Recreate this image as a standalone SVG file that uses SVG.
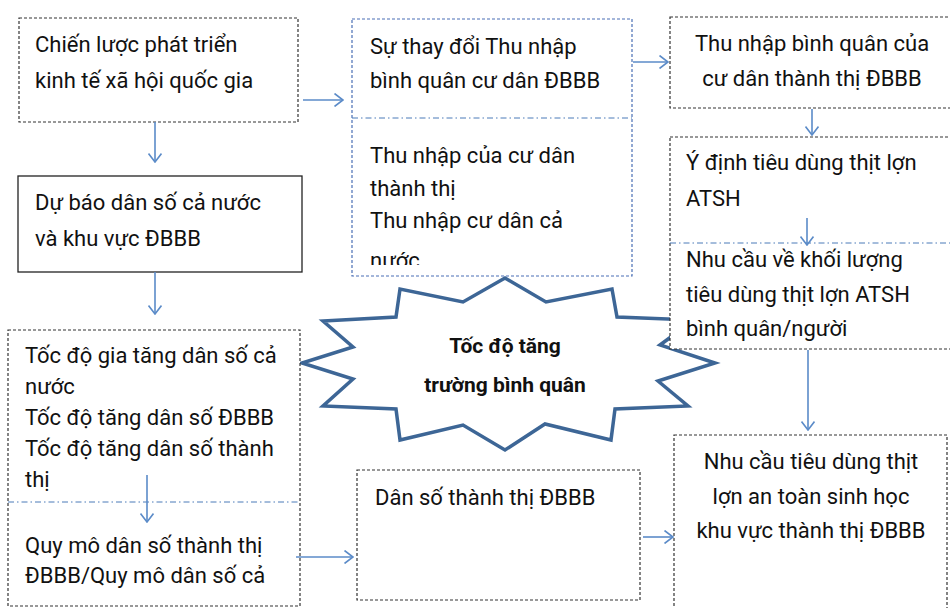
<svg xmlns="http://www.w3.org/2000/svg" width="950" height="608" viewBox="0 0 950 608">
<defs>
<style>
text{font-family:Roboto,"Noto Sans",sans-serif;font-size:22px;fill:#111}
.bx{fill:#fff;stroke:#333;stroke-width:1.2;stroke-dasharray:3 2}
.sol{fill:#fff;stroke:#222;stroke-width:1.3}
.bb{fill:#fff;stroke:#4a6fb5;stroke-width:1.2;stroke-dasharray:3 2}
.div{stroke:#4a7ab8;stroke-width:1;stroke-dasharray:6 3 1.5 3;fill:none}
.ar{stroke:#5b8bc8;stroke-width:1.6;fill:none;marker-end:url(#ah)}
.c{text-anchor:middle}
.b{font-weight:bold;font-size:21px}
</style>
<marker id="ah" viewBox="0 0 10 14" refX="9.5" refY="7" markerWidth="10" markerHeight="14" markerUnits="userSpaceOnUse" orient="auto">
<path d="M1,0.5 L9.5,7 L1,13.5" fill="none" stroke="#5b8bc8" stroke-width="1.6"/>
</marker>
<clipPath id="clipMid"><rect x="352" y="120" width="280" height="145"/></clipPath>
</defs>

<g id="star">
<polygon points="505,278 546,302 612,289 617,317 694,320 660,345 715,363 658,381 688,406 615,409 611,440 545,424 505,450 463,425 400,440 396,409 323,406 353,379 302,363 353,347 323,321 396,317 400,289 463,302" fill="#fff" stroke="#3d6696" stroke-width="3.5" stroke-linejoin="miter"/>
<text class="c b" x="505" y="353">Tốc độ tăng</text>
<text class="c b" x="505" y="392">trường bình quân</text>
</g>

<g id="n1">
<rect class="bx" x="19" y="18" width="279" height="104"/>
<text x="35" y="52">Chiến lược phát triển</text>
<text x="35" y="88">kinh tế xã hội quốc gia</text>
</g>

<g id="n2">
<rect class="sol" x="18" y="176" width="284" height="96"/>
<text x="35" y="210">Dự báo dân số cả nước</text>
<text x="35" y="246">và khu vực ĐBBB</text>
</g>

<g id="n3">
<rect class="bx" x="8" y="330" width="292" height="276"/>
<line class="div" x1="8" y1="502" x2="300" y2="502"/>
<text x="25" y="363">Tốc độ gia tăng dân số cả</text>
<text x="25" y="394">nước</text>
<text x="25" y="425">Tốc độ tăng dân số ĐBBB</text>
<text x="25" y="456">Tốc độ tăng dân số thành</text>
<text x="25" y="487">thị</text>
<text x="25" y="553">Quy mô dân số thành thị</text>
<text x="25" y="583">ĐBBB/Quy mô dân số cả</text>
</g>

<g id="n4">
<rect class="bb" x="352" y="19" width="280" height="257"/>
<line class="div" x1="352" y1="118" x2="632" y2="118"/>
<text x="370" y="54">Sự thay đổi Thu nhập</text>
<text x="370" y="88">bình quân cư dân ĐBBB</text>
<g clip-path="url(#clipMid)">
<text x="370" y="163">Thu nhập của cư dân</text>
<text x="370" y="196">thành thị</text>
<text x="370" y="228">Thu nhập cư dân cả</text>
<text x="370" y="268">nước</text>
</g>
</g>

<g id="n5">
<rect class="bx" x="670" y="17" width="290" height="91"/>
<text class="c" x="812" y="51">Thu nhập bình quân của</text>
<text class="c" x="812" y="86">cư dân thành thị ĐBBB</text>
</g>

<g id="n6">
<rect class="bx" x="670" y="137" width="290" height="212"/>
<line class="div" x1="670" y1="243" x2="950" y2="243"/>
<text x="686" y="170">Ý định tiêu dùng thịt lợn</text>
<text x="686" y="206">ATSH</text>
<text x="686" y="267">Nhu cầu về khối lượng</text>
<text x="686" y="302">tiêu dùng thịt lợn ATSH</text>
<text x="686" y="336">bình quân/người</text>
</g>

<g id="n7">
<rect class="bx" x="357" y="470" width="283" height="130"/>
<text x="375" y="505">Dân số thành thị ĐBBB</text>
</g>

<g id="n8">
<rect class="bx" x="674" y="435" width="273" height="185"/>
<text class="c" x="811" y="469">Nhu cầu tiêu dùng thịt</text>
<text class="c" x="811" y="504">lợn an toàn sinh học</text>
<text class="c" x="811" y="538">khu vực thành thị ĐBBB</text>
</g>

<g id="connectors">
<line class="ar" x1="303" y1="100" x2="343" y2="100"/>
<line class="ar" x1="633" y1="62" x2="668" y2="62"/>
<line class="ar" x1="155" y1="122" x2="155" y2="162"/>
<line class="ar" x1="155" y1="272" x2="155" y2="314"/>
<line class="ar" x1="147" y1="475" x2="147" y2="522"/>
<line class="ar" x1="296" y1="557" x2="353" y2="557"/>
<line class="ar" x1="643" y1="537" x2="673" y2="537"/>
<line class="ar" x1="812" y1="109" x2="812" y2="135"/>
<line class="ar" x1="807" y1="218" x2="807" y2="245"/>
<line class="ar" x1="808" y1="350" x2="808" y2="430"/>
</g>
</svg>
